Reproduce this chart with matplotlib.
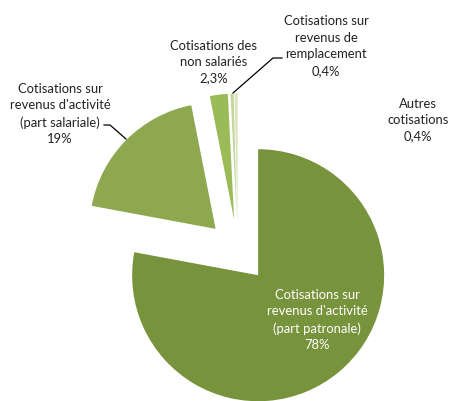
import matplotlib
matplotlib.use("Agg")
import matplotlib.pyplot as plt

W, H = 451, 401
plt.rcParams['font.family'] = ['Lato', 'DejaVu Sans']

categories = ["Cotisations sur\nrevenus d'activité\n(part patronale)",
              "Cotisations sur\nrevenus d'activité\n(part salariale)",
              "Cotisations des\nnon salariés",
              "Cotisations sur\nrevenus de\nremplacement",
              "Autres\ncotisations"]
values = [78, 19, 2.3, 0.4, 0.4]
value_labels = ["78%", "19%", "2,3%", "0,4%", "0,4%"]
colors = ["#77933C", "#8EA850", "#9BBB59", "#C3D69B", "#D7E4BD"]

fig = plt.figure(figsize=(W / 100, H / 100), dpi=100)
ax = fig.add_axes([0, 0, 1, 1])

def Y(y):
    return H - y

R = 126
ax.pie(values, colors=colors, startangle=90, counterclock=False,
       explode=[0.25 * R] * len(values), center=(238, Y(251)), radius=R,
       wedgeprops=dict(linewidth=0), frame=True)

ax.set_xlim(0, W)
ax.set_ylim(0, H)
ax.set_aspect('equal')
ax.axis('off')

fs = 9.4
ls = 1.45
label_pos = [(317, 320, 'white'), (60, 114, '#222222'), (214, 62, '#222222'),
             (326, 46, '#222222'), (418, 120, '#222222')]
for cat, vl, (x, y, c) in zip(categories, value_labels, label_pos):
    ax.text(x, Y(y), cat + "\n" + vl, ha='center', va='center', fontsize=fs,
            color=c, linespacing=ls)

# leader lines
ax.plot([104, 110, 126], [Y(125), Y(125), Y(139)], color='black', lw=0.9)
ax.plot([282, 273, 233], [Y(58), Y(58), Y(93)], color='black', lw=0.9)

fig.savefig("out.png", dpi=100)
